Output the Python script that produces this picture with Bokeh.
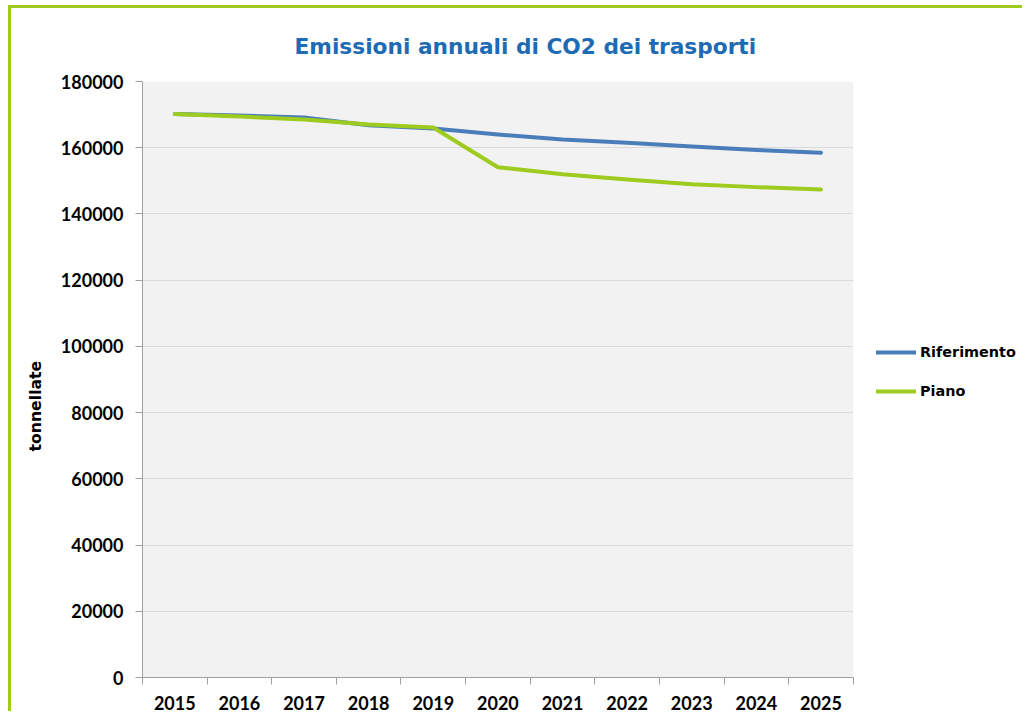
from bokeh.plotting import figure
from bokeh.models import (ColumnDataSource, FixedTicker, Legend, LegendItem, Title,
                          Range1d, NumeralTickFormatter, BoxAnnotation)
from bokeh.embed import file_html
from bokeh.resources import INLINE

# ---- data ----
years = [2015, 2016, 2017, 2018, 2019, 2020, 2021, 2022, 2023, 2024, 2025]
riferimento = [170200, 169700, 169100, 166800, 165800, 164000, 162500, 161500, 160400, 159300, 158500]
piano = [170200, 169400, 168500, 167000, 166100, 154100, 152000, 150400, 149000, 148100, 147400]
y_ticks = [0, 20000, 40000, 60000, 80000, 100000, 120000, 140000, 160000, 180000]
title_text = "Emissioni annuali di CO2 dei trasporti"
y_label = "tonnellate"
series_names = ["Riferimento", "Piano"]

BLUE = "#4A7EBB"
GREEN = "#9DCB1E"
AXIS = "#A0A0A0"
TICK_FONT = "Lato"
TEXT_FONT = "DejaVu Sans"

x_lo = years[0] - 0.5
x_hi = years[-1] + 0.5
legend_room = 2.665  # extra x extent (in category units) reserved for the legend

source = ColumnDataSource(dict(year=years, rif=riferimento, pia=piano))

p = figure(width=1014, height=706,
           x_range=Range1d(x_lo, x_hi + legend_room),
           y_range=Range1d(y_ticks[0], y_ticks[-1]),
           output_backend="svg", toolbar_location=None,
           min_border_left=131, min_border_right=0,
           min_border_top=73, min_border_bottom=37)
p.styles = {"border-left": "3px solid " + GREEN, "border-top": "3px solid " + GREEN,
            "margin-left": "8px", "margin-top": "5px"}

p.background_fill_color = "white"
p.border_fill_color = "white"
p.outline_line_color = None

# grey plot area
p.add_layout(BoxAnnotation(left=x_lo, right=x_hi, bottom=y_ticks[0], top=y_ticks[-1],
                           fill_color="#F2F2F2", fill_alpha=1, line_color=None,
                           level="image"))

p.xgrid.visible = False
p.ygrid.grid_line_color = "#D9D9D9"
p.ygrid.grid_line_width = 1

# white cover for the legend area (hides grid lines right of the plot area)
p.add_layout(BoxAnnotation(left=x_hi, fill_color="white", fill_alpha=1,
                           line_color=None, level="underlay"))

# x axis: labels at category centers, ticks at boundaries
boundaries = [y - 0.5 for y in years] + [x_hi]
p.xaxis.ticker = FixedTicker(ticks=years, minor_ticks=boundaries)
p.xaxis.bounds = (x_lo, x_hi)
p.xaxis.major_tick_out = 0
p.xaxis.major_tick_in = 0
p.xaxis.minor_tick_out = 7
p.xaxis.minor_tick_in = 0
p.xaxis.minor_tick_line_color = AXIS
p.xaxis.axis_line_color = AXIS
p.xaxis.major_label_standoff = 11
p.xaxis.major_label_text_font = TICK_FONT
p.xaxis.major_label_text_font_style = "bold"
p.xaxis.major_label_text_font_size = "18px"
p.xaxis.major_label_text_color = "black"

# y axis
p.yaxis.ticker = FixedTicker(ticks=y_ticks)
p.yaxis.formatter = NumeralTickFormatter(format="0")
p.yaxis.major_tick_out = 7
p.yaxis.major_tick_in = 0
p.yaxis.minor_tick_out = 0
p.yaxis.minor_tick_in = 0
p.yaxis.major_tick_line_color = AXIS
p.yaxis.axis_line_color = AXIS
p.yaxis.major_label_standoff = 12
p.yaxis.major_label_text_font = TICK_FONT
p.yaxis.major_label_text_font_style = "bold"
p.yaxis.major_label_text_font_size = "18px"
p.yaxis.major_label_text_color = "black"

# lines
r1 = p.line("year", "rif", source=source, line_width=4, line_color=BLUE,
            line_join="round", line_cap="round")
r2 = p.line("year", "pia", source=source, line_width=4, line_color=GREEN,
            line_join="round", line_cap="round")

# legend
legend = Legend(items=[LegendItem(label=series_names[0], renderers=[r1]),
                       LegendItem(label=series_names[1], renderers=[r2])],
                location=(734, 276), orientation="vertical",
                glyph_width=40, glyph_height=20, spacing=19,
                padding=0, margin=0, label_standoff=4,
                border_line_color=None, background_fill_alpha=0,
                label_text_font=TEXT_FONT, label_text_font_style="bold",
                label_text_font_size="14.4px", label_text_color="black")
p.add_layout(legend)

# title
p.title.text = title_text
p.title.align = "left"
p.title.offset = 152
p.title.text_font = TEXT_FONT
p.title.text_font_style = "bold"
p.title.text_font_size = "21.7px"
p.title.text_color = "#1C6BB4"
p.title.standoff = 45

# y axis label as a left-side title
p.add_layout(Title(text=y_label, align="left", offset=226, standoff=25,
                   text_font=TEXT_FONT, text_font_style="bold",
                   text_font_size="15.7px", text_color="black"), "left")

open("out.html", "w").write(file_html(p, INLINE))
